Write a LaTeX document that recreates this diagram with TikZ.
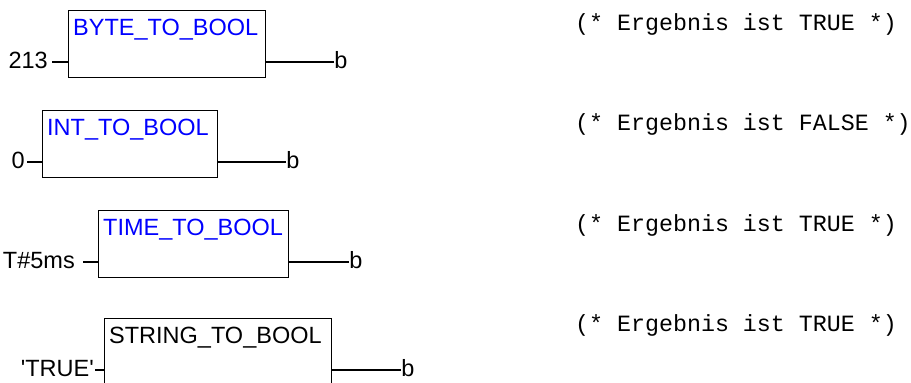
\documentclass[tikz,border=0pt]{standalone}
\usepackage{fontspec}
\setmainfont{Liberation Sans}
\newfontfamily\monofnt{Liberation Mono}
\definecolor{fbblue}{RGB}{0,0,255}
\begin{document}
\begin{tikzpicture}[x=1pt,y=-1pt,
  fbbox/.style={draw, line width=1.2pt, inner sep=0pt, anchor=north west, minimum height=67pt},
  fbname/.style={inner sep=0pt, anchor=base west, font=\fontsize{23.5pt}{23.5pt}\selectfont},
  lbl/.style={inner sep=0pt, font=\fontsize{23.5pt}{23.5pt}\selectfont},
  cmt/.style={inner sep=0pt, anchor=base west, font=\monofnt\fontsize{23.3pt}{23.3pt}\selectfont},
  wire/.style={line width=1.2pt}]
\clip (0,0) rectangle (911,383);
\fill[white] (0,0) rectangle (911,383);

% Block 1
\node[fbbox, minimum width=197pt] (b1) at (68,10) {};
\node[fbname, text=fbblue] (n1) at ([xshift=5pt,yshift=-25pt]b1.north west) {BYTE\_TO\_BOOL};
\coordinate (in1) at ([yshift=-52pt]b1.north west);
\coordinate (out1) at ([yshift=-52pt]b1.north east);
\node[lbl, anchor=base east] (x1) at ([xshift=-20pt,yshift=-6pt]in1) {213};
\node[lbl, anchor=base west] (y1) at ([xshift=68pt,yshift=-6pt]out1) {b};
\draw[wire] ([xshift=4pt]x1.east |- in1) -- (in1);
\draw[wire] (out1) -- (y1.west |- out1);

% Block 2
\node[fbbox, minimum width=175pt] (b2) at (42,110) {};
\node[fbname, text=fbblue] (n2) at ([xshift=5pt,yshift=-25pt]b2.north west) {INT\_TO\_BOOL};
\coordinate (in2) at ([yshift=-52pt]b2.north west);
\coordinate (out2) at ([yshift=-52pt]b2.north east);
\node[lbl, anchor=base east] (x2) at ([xshift=-17pt,yshift=-6pt]in2) {0};
\node[lbl, anchor=base west] (y2) at ([xshift=68pt,yshift=-6pt]out2) {b};
\draw[wire] ([xshift=2pt]x2.east |- in2) -- (in2);
\draw[wire] (out2) -- (y2.west |- out2);

% Block 3
\node[fbbox, minimum width=190pt] (b3) at (98,210) {};
\node[fbname, text=fbblue] (n3) at ([xshift=5pt,yshift=-25pt]b3.north west) {TIME\_TO\_BOOL};
\coordinate (in3) at ([yshift=-52pt]b3.north west);
\coordinate (out3) at ([yshift=-52pt]b3.north east);
\node[lbl, anchor=base east] (x3) at ([xshift=-23pt,yshift=-6pt]in3) {T\#5ms};
\node[lbl, anchor=base west] (y3) at ([xshift=60pt,yshift=-6pt]out3) {b};
\draw[wire] ([xshift=8pt]x3.east |- in3) -- (in3);
\draw[wire] (out3) -- (y3.west |- out3);

% Block 4
\node[fbbox, minimum width=227pt] (b4) at (104,318) {};
\node[fbname] (n4) at ([xshift=5pt,yshift=-25pt]b4.north west) {STRING\_TO\_BOOL};
\coordinate (in4) at ([yshift=-52pt]b4.north west);
\coordinate (out4) at ([yshift=-52pt]b4.north east);
\node[lbl, anchor=base east] (x4) at ([xshift=-10pt,yshift=-6pt]in4) {\addfontfeature{Ligatures=TeXOff}'TRUE'};
\node[lbl, anchor=base west] (y4) at ([xshift=69pt,yshift=-6pt]out4) {b};
\draw[wire] ([xshift=1pt]x4.east |- in4) -- (in4);
\draw[wire] (out4) -- (y4.west |- out4);

% Comments
\node[cmt] (c1) at (575,30) {(* Ergebnis ist TRUE *)};
\node[cmt] (c2) at (575,130) {(* Ergebnis ist FALSE *)};
\node[cmt] (c3) at (575,231) {(* Ergebnis ist TRUE *)};
\node[cmt] (c4) at (575,331) {(* Ergebnis ist TRUE *)};
\end{tikzpicture}
\end{document}
